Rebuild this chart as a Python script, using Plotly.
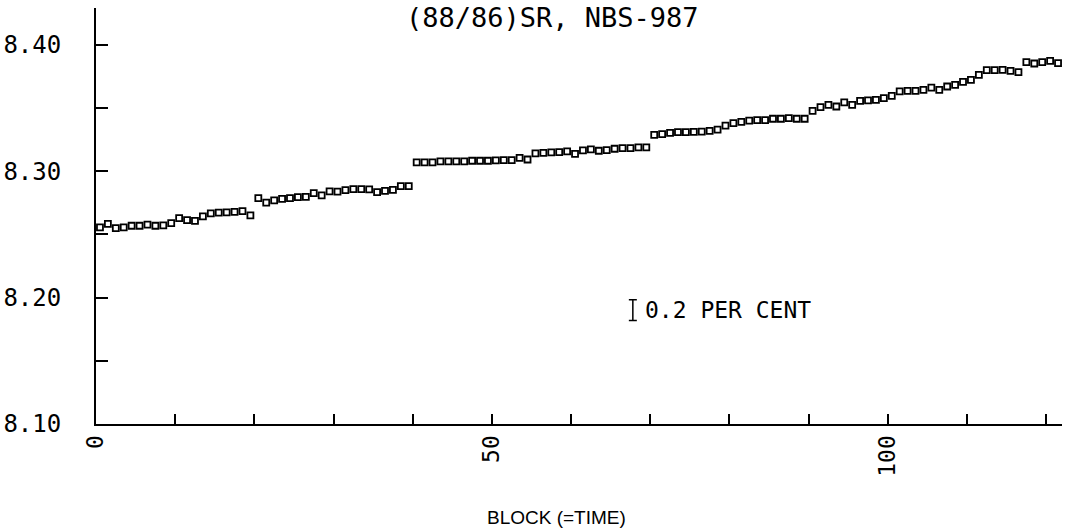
import plotly.graph_objects as go

# ---- data ----
BLOCK = list(range(1, 123))  # block numbers; each plotted at the centre of its block

RATIO_SEG1 = [8.2555, 8.2583, 8.2549, 8.2555, 8.2568, 8.2568, 8.2576, 8.2568, 8.2571, 8.2589,
              8.2628, 8.2613, 8.2607, 8.2642, 8.2666, 8.2671, 8.2673, 8.2678, 8.2684, 8.2650]
RATIO_SEG2 = [8.2787, 8.2750, 8.2768, 8.2781, 8.2787, 8.2794, 8.2797, 8.2826, 8.2808, 8.2839,
              8.2837, 8.2850, 8.2858, 8.2858, 8.2855, 8.2834, 8.2844, 8.2852, 8.2881, 8.2881]
RATIO_SEG3 = [8.3069, 8.3069, 8.3069, 8.3077, 8.3077, 8.3077, 8.3077, 8.3082, 8.3082, 8.3082,
              8.3085, 8.3087, 8.3087, 8.3105, 8.3092, 8.3140, 8.3145, 8.3148, 8.3150, 8.3156,
              8.3137, 8.3164, 8.3172, 8.3161, 8.3166, 8.3177, 8.3182, 8.3182, 8.3187, 8.3187]
RATIO_SEG4 = [8.3287, 8.3292, 8.3303, 8.3308, 8.3308, 8.3310, 8.3312, 8.3318, 8.3328, 8.3360,
              8.3380, 8.3390, 8.3400, 8.3403, 8.3403, 8.3414, 8.3414, 8.3419, 8.3414, 8.3414,
              8.3477, 8.3506, 8.3524, 8.3511, 8.3543, 8.3524, 8.3556, 8.3559, 8.3564, 8.3577,
              8.3595, 8.3630, 8.3635, 8.3635, 8.3643, 8.3661, 8.3643, 8.3669, 8.3682, 8.3706,
              8.3722, 8.3761, 8.3798, 8.3798, 8.3800, 8.3793, 8.3783, 8.3862, 8.3851, 8.3862,
              8.3872, 8.3854]
RATIO = RATIO_SEG1 + RATIO_SEG2 + RATIO_SEG3 + RATIO_SEG4

Y_TICKS = [8.10, 8.20, 8.30, 8.40]
Y_TICK_TEXT = ["8.10", "8.20", "8.30", "8.40"]
X_TICKS = [0, 50, 100]
X_TICK_TEXT = ["0", "50", "100"]

TITLE = "(88/86)SR, NBS-987"
X_LABEL = "BLOCK (=TIME)"
SCALE_TEXT = "0.2 PER CENT"
SCALE_PERCENT = 0.2        # full height of the scale bar, in per cent
SCALE_X = 67.8             # block position of the scale bar
SCALE_Y = 8.19             # ratio at the centre of the scale bar

MONO = "DejaVu Sans Mono"

x_plot = [b - 0.5 for b in BLOCK]

fig = go.Figure()
fig.add_trace(go.Scatter(
    x=x_plot, y=RATIO, mode="markers",
    marker=dict(symbol="square-open", size=6, color="black", line=dict(width=1.8, color="black")),
    showlegend=False, hoverinfo="x+y",
))
# scale bar: 0.2 per cent of the ratio (±0.1 %)
fig.add_trace(go.Scatter(
    x=[SCALE_X], y=[SCALE_Y], mode="markers",
    marker=dict(size=1, color="rgba(0,0,0,0)"),
    error_y=dict(type="percent", value=SCALE_PERCENT / 2, color="black", thickness=1.5, width=4),
    showlegend=False, hoverinfo="skip",
))
fig.add_annotation(x=SCALE_X + 1.3, y=SCALE_Y, text=SCALE_TEXT, showarrow=False,
                   xanchor="left", yanchor="middle", font=dict(family=MONO, size=23, color="black"))
fig.add_annotation(x=0.473, y=0.976, xref="paper", yref="paper", text=TITLE, showarrow=False,
                   xanchor="center", yanchor="middle", font=dict(family=MONO, size=27, color="black"))
fig.add_annotation(x=0.477, y=-0.2236, xref="paper", yref="paper", text=X_LABEL, showarrow=False,
                   xanchor="center", yanchor="middle",
                   font=dict(family="Liberation Sans", size=19, color="black"))

fig.update_layout(
    width=1069, height=528,
    margin=dict(l=96, r=7, t=8, b=104),
    paper_bgcolor="white", plot_bgcolor="white",
    xaxis=dict(
        range=[0, 122], tickvals=X_TICKS, ticktext=X_TICK_TEXT, tickangle=-90,
        ticks="inside", ticklen=10, tickwidth=1.5, tickcolor="black",
        minor=dict(dtick=10, tick0=0, ticks="inside", ticklen=10, tickwidth=1.5, tickcolor="black"),
        showline=True, linecolor="black", linewidth=2, showgrid=False, zeroline=False,
        tickfont=dict(family=MONO, size=23, color="black"), automargin=False,
    ),
    yaxis=dict(
        range=[8.10, 8.429], tickvals=Y_TICKS, ticktext=Y_TICK_TEXT,
        ticks="inside", ticklen=12, tickwidth=1.5, tickcolor="black",
        minor=dict(dtick=0.05, tick0=8.10, ticks="inside", ticklen=12, tickwidth=1.5, tickcolor="black"),
        showline=True, linecolor="black", linewidth=2, showgrid=False, zeroline=False,
        tickfont=dict(family=MONO, size=24, color="black"),
        ticklabelstandoff=28, automargin=False,
    ),
)

fig.write_html("out.html")
